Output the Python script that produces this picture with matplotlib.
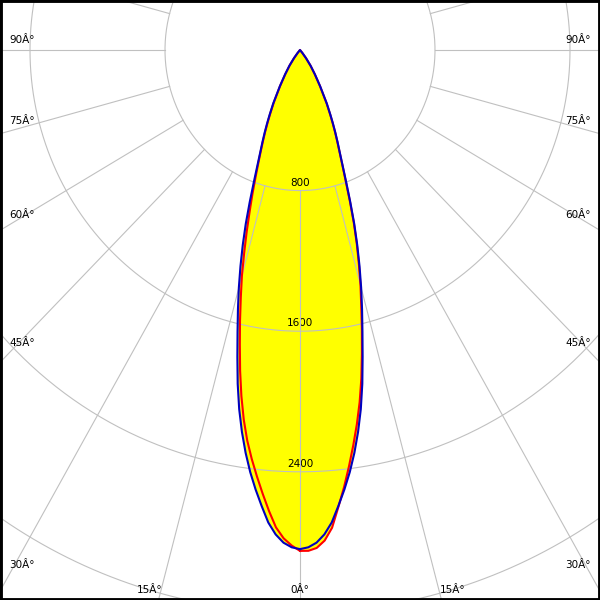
import numpy as np
import matplotlib.pyplot as plt

# gamma angles (deg) and luminous intensity (cd)
gamma = [0, 1, 2, 3, 4, 5, 6, 7, 8, 9, 10, 11, 12, 13, 14, 15, 16, 17, 18,
         19, 20, 21, 22, 23, 24, 25, 26, 27.5, 30, 32.5, 35, 37.5, 40,
         42.5, 45, 60, 75, 90]
i_c0_c180 = [2840, 2830, 2805, 2760, 2695, 2605, 2515, 2420, 2315, 2200,
             2075, 1935, 1785, 1645, 1520, 1400, 1280, 1160, 1040, 915, 800,
             705, 630, 570, 515, 462, 412, 345, 240, 165, 110, 60, 22, 0, 0,
             0, 0, 0]
i_c90 = [2850, 2850, 2835, 2795, 2725, 2610, 2500, 2385, 2270, 2155, 2035,
         1905, 1765, 1630, 1500, 1385, 1265, 1150, 1030, 905, 790, 700, 625,
         565, 510, 457, 407, 340, 236, 162, 108, 58, 20, 0, 0, 0, 0, 0]
i_c270 = [2850, 2820, 2780, 2720, 2630, 2535, 2440, 2345, 2245, 2130, 2000,
          1860, 1715, 1580, 1450, 1330, 1200, 1080, 965, 865, 770, 690, 620,
          560, 505, 452, 402, 335, 235, 160, 106, 57, 20, 0, 0, 0, 0, 0]

radii = [800, 1600, 2400, 3200, 4000]
radius_labels = [800, 1600, 2400]
angle_labels = [0, 15, 30, 45, 60, 75, 90]

# pixel scale of the original drawing
px_x = 135 / 800
px_y = 140.6 / 800

fig = plt.figure(figsize=(6, 6), dpi=100)
ax = fig.add_axes([0, 0, 1, 1])
ax.set_xlim(-300 / px_x, 300 / px_x)
ax.set_ylim(-550 / px_y, 50 / px_y)
ax.set_xticks([])
ax.set_yticks([])
for s in ax.spines.values():
    s.set_linewidth(3.5)
    s.set_color('black')

g = np.radians(gamma)


def outline(left, right):
    left = np.array(left, float)
    right = np.array(right, float)
    x = np.concatenate([right * np.sin(g), (-left * np.sin(g))[::-1]])
    y = np.concatenate([-right * np.cos(g), (-left * np.cos(g))[::-1]])
    return x, y


xb, yb = outline(i_c0_c180, i_c0_c180)
xr, yr = outline(i_c270, i_c90)

ax.fill(xb, yb, color='#ffff00', zorder=1, lw=0)
ax.fill(xr, yr, color='#ffff00', zorder=1, lw=0)

# grid
grid_col = '#c0c0c0'
t = np.linspace(0, 2 * np.pi, 721)
for r in radii:
    ax.plot(r * np.sin(t), r * np.cos(t), color=grid_col, lw=0.8, zorder=2)
for a in range(0, 360, 15):
    ar = np.radians(a)
    ax.plot([800 * np.sin(ar), 6000 * np.sin(ar)],
            [-800 * np.cos(ar), -6000 * np.cos(ar)],
            color=grid_col, lw=0.8, zorder=2)

for r in radius_labels:
    ax.annotate(str(r), xy=(0, -r), xytext=(0, 3), textcoords='offset pixels',
                ha='center', va='bottom', fontsize=7.5, zorder=1.5)

# angle labels
x_in = 300 / px_x - 9 / px_x
y_in = -550 / px_y + 7 / px_y
for a in angle_labels:
    ar = np.radians(a)
    txt = f'{a}Â°'
    if a >= 30:
        r = x_in / np.sin(ar)
        y = -r * np.cos(ar)
        ax.annotate(txt, xy=(-x_in, y), xytext=(0, 7), textcoords='offset pixels',
                    ha='left', va='baseline', fontsize=7.5, zorder=4)
        ax.annotate(txt, xy=(x_in, y), xytext=(0, 7), textcoords='offset pixels',
                    ha='right', va='baseline', fontsize=7.5, zorder=4)
    else:
        r = -y_in / np.cos(ar)
        x = r * np.sin(ar)
        if a == 0:
            ax.annotate(txt, xy=(0, y_in), ha='center', va='baseline',
                        fontsize=7.5, zorder=4)
        else:
            ax.annotate(txt, xy=(-x, y_in), xytext=(2, 0), textcoords='offset pixels',
                        ha='right', va='baseline', fontsize=7.5, zorder=4)
            ax.annotate(txt, xy=(x, y_in), xytext=(0, 0), textcoords='offset pixels',
                        ha='left', va='baseline', fontsize=7.5, zorder=4)

ax.plot(xr, yr, color='#ff0000', lw=1.5, zorder=3)
ax.plot(xb, yb, color='#0000c0', lw=1.5, zorder=3.5)

fig.savefig('out.png', dpi=100)
